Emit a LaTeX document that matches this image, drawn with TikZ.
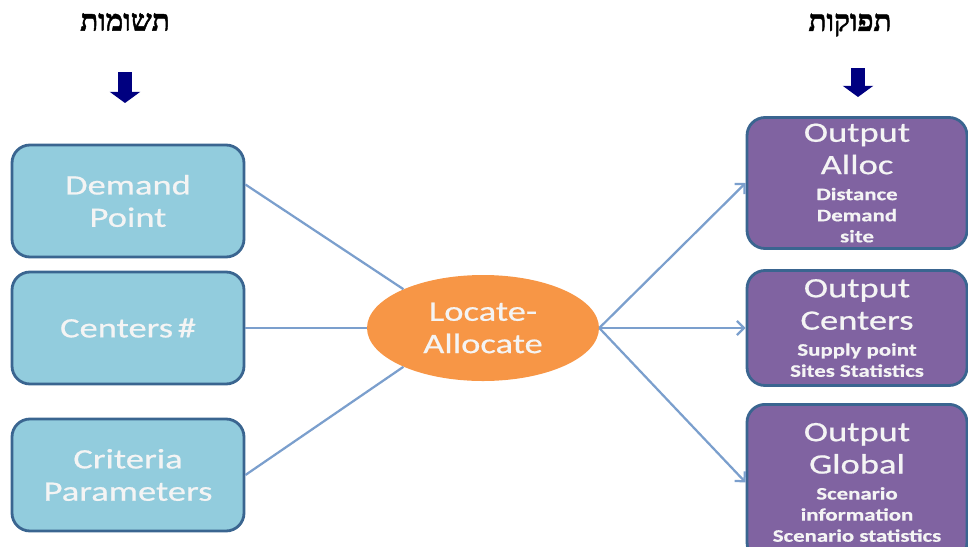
\documentclass[tikz,border=0pt]{standalone}
\usepackage{fontspec}
\usepackage{tikz}
\usetikzlibrary{arrows.meta,shapes.geometric}
\setmainfont{Carlito}
\newfontfamily\boxfont{Carlito}[FakeStretch=1.3,FakeBold=0.6]
\newfontfamily\hebfont[Script=Hebrew,UprightFont={* Bold},FakeBold=1.5]{Liberation Serif}
\TeXXeTstate=1
\newcommand{\bigtxt}{\boxfont\fontsize{20}{23}\selectfont}
\newcommand{\smalltxt}{\boxfont\bfseries\fontsize{12.5}{14.5}\selectfont}
\definecolor{boxblue}{HTML}{92CCDD}
\definecolor{boxpurple}{HTML}{8063A1}
\definecolor{edgeblue}{HTML}{3A6590}
\definecolor{taskorange}{HTML}{F79646}
\definecolor{linkblue}{HTML}{7B9FCD}
\definecolor{navyarrow}{HTML}{000080}
\definecolor{boxtext}{HTML}{F4F4F4}

\begin{document}
\begin{tikzpicture}[->,>={Straight Barb[length=5pt,width=10pt]},node distance=3cm,
                    inbox/.style={rectangle,rounded corners=0.45cm,draw=edgeblue,line width=2pt,
                                  fill=boxblue,minimum width=5.8cm,minimum height=2.8cm,
                                  text=boxtext,align=center,font=\bigtxt},
                    outbox/.style={rectangle,rounded corners=0.45cm,draw=edgeblue,line width=2pt,
                                   fill=boxpurple,minimum width=5.5cm,
                                   text=boxtext,align=center,font=\bigtxt},
                    task/.style={ellipse,fill=taskorange,minimum width=5.8cm,minimum height=2.65cm,
                                 text=boxtext,align=center,font=\bigtxt},
                    head/.style={font=\hebfont\fontsize{21}{23}\selectfont},
                    fatdown/.style={-{Triangle[width=0.75cm,length=0.28cm]},line width=0.33cm,draw=navyarrow},
                    link/.style={draw=linkblue,line width=1.6pt}]

  \useasboundingbox (0,0) rectangle (24.2,-13.65);

  \node[task] (la) at (12.075,-8.2)                         {Locate-\\Allocate};

  \node[inbox](cn) [left of=la,node distance=8.875cm]      {Centers\,\#};
  \node[inbox](dp) [above of=cn,node distance=3.175cm]     {Demand\\Point};
  \node[inbox](cp) [below of=cn,node distance=3.675cm]     {Criteria\\Parameters};

  \node[outbox,minimum height=2.875cm](oc) [right of=la,node distance=9.35cm]
        {Output\\Centers\\[-4.5pt]{\smalltxt Supply point}\\[-8pt]{\smalltxt Sites Statistics}};
  \node[outbox,minimum height=3.275cm](oa) [above of=oc,node distance=3.625cm]
        {Output\\Alloc\\[-4.5pt]{\smalltxt Distance}\\[-8pt]{\smalltxt Demand}\\[-8pt]{\smalltxt site}};
  \node[outbox,minimum height=3.9cm](og) [below of=oc,node distance=3.86cm]
        {Output\\Global\\[-4.5pt]{\smalltxt Scenario}\\[-8pt]{\smalltxt information}\\[-8pt]{\smalltxt Scenario statistics}};

  \node[head] (hin)  at (3.125,-0.55)  {\beginR תשומות\endR};
  \node[head] (hout) at (21.25,-0.625) {\beginR תפוקות\endR};

  \coordinate (ia) at (3.125,-1.8);
  \coordinate (ib) at (3.125,-2.575);
  \coordinate (oa1) at (21.45,-1.7);
  \coordinate (ob1) at (21.45,-2.425);
  \draw[fatdown] (ia) -- (ib);
  \draw[fatdown] (oa1) -- (ob1);

  \path (dp.8)    edge[link,-]  (la.154);
  \path (cn.east) edge[link,-]  (la.west);
  \path (cp.east) edge[link,-]  (la.206);

  \path (la.east) edge[link]    (oa.west);
  \path (la.east) edge[link]    (oc.west);
  \path (la.east) edge[link]    (og.west);

\end{tikzpicture}
\end{document}
